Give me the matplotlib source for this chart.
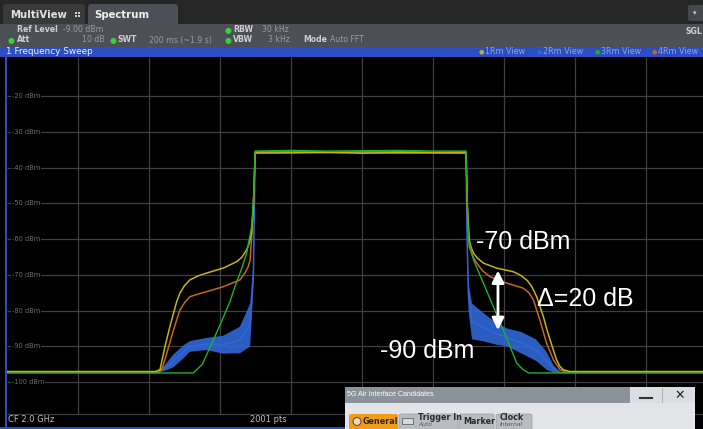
import matplotlib.pyplot as plt
from matplotlib.patches import Rectangle, FancyBboxPatch, Circle

W, H = 703, 429

# trace data: offset from CF 2.0 GHz (MHz, 20 MHz/div), level (dBm)
yellow_f = [-100, -58.3, -56.9, -55.5, -54.1, -53.1, -52.2, -51.3, -50.0, -48.5, -46.0, -43.8,
            -39.1, -35.3, -33.8, -32.5, -31.8, -31.1, -30.6, -30.1, -20, -10, 0, 10, 20, 29.3,
            29.7, 30.2, 30.8, 31.4, 32.5, 34.2, 37.9, 42.6, 44.5, 46.4, 47.8, 49.2, 51.1, 52.0,
            53.0, 54.8, 55.7, 56.7, 58.5, 100]
yellow_db = [-97.0, -97.0, -96.5, -90.0, -84.4, -80.7, -77.5, -75.1, -73.0, -71.4, -70.2, -69.5,
             -68.1, -66.3, -65.0, -63.0, -61.2, -58.4, -50.9, -35.9, -35.9, -35.7, -36.0, -35.8,
             -35.9, -35.9, -50.9, -60.2, -62.5, -63.9, -65.3, -66.7, -68.1, -69.1, -70.0, -71.4,
             -73.2, -76.1, -81.7, -85.0, -88.2, -93.7, -95.5, -96.5, -97.0, -97.0]

orange_f = [-100, -57.5, -56.4, -55.0, -53.1, -51.3, -49.8, -48.5, -46.0, -43.8, -39.1, -34.4,
            -33.0, -32.1, -31.5, -30.6, -30.1, -20, -10, 0, 10, 20, 29.3, 29.7, 30.2, 31.2,
            32.3, 34.0, 36.1, 40.8, 45.4, 47.0, 48.3, 50.1, 52.0, 53.9, 55.8, 57.5, 100]
orange_db = [-97.2, -97.2, -96.5, -91.9, -85.4, -79.8, -77.5, -76.1, -75.3, -74.7, -73.3, -71.4,
             -69.5, -67.8, -65.8, -50.9, -35.6, -35.5, -35.7, -35.6, -35.5, -35.7, -35.6, -52.8,
             -62.1, -64.8, -66.7, -68.9, -70.5, -72.3, -73.7, -75.0, -77.0, -82.6, -89.1, -93.7,
             -96.5, -97.2, -97.2]

blue_f = [-100, -57.5, -55.5, -53.1, -50.3, -48.5, -43.8, -39.1, -34.4, -31.5, -30.6, -30.1,
          -20, -10, 0, 10, 20, 29.3, 29.6, 30.0, 31.0, 34.0, 37.9, 41.0, 45.0, 49.0, 52.0,
          54.0, 56.0, 100]
blue_db = [-97.3, -97.3, -96.0, -94.0, -91.5, -90.0, -89.3, -89.5, -88.2, -84.0, -70.0, -36.0,
           -35.8, -35.9, -35.8, -36.0, -35.9, -36.0, -60.0, -76.0, -83.0, -84.5, -86.5, -87.5,
           -89.0, -91.0, -94.0, -96.3, -97.3, -97.3]
blue_ripple = [0, 0, 0.8, 1.8, 1.8, 1.5, 1.7, 2.5, 3.7, 6.0, 3.0, 0,
               0, 0, 0, 0, 0, 0, 2.0, 4.0, 5.0, 4.0, 3.0, 2.5,
               3.0, 3.0, 2.5, 1.0, 0, 0]

green_f = [-100, -47.5, -46.6, -45.0, -42.3, -40.0, -37.2, -35.8, -34.0, -32.5, -31.1, -30.4,
           -30.1, -20, -10, 0, 10, 20, 29.3, 29.7, 30.0, 31.4, 34.2, 37.0, 39.8, 41.7, 43.6,
           45.4, 47.0, 100]
green_db = [-97.4, -97.4, -96.5, -95.0, -89.1, -84.0, -77.5, -73.3, -68.5, -64.0, -56.5, -46.0,
            -35.4, -35.2, -35.4, -35.3, -35.2, -35.4, -35.4, -50.9, -60.2, -65.8, -72.3, -78.9,
            -85.4, -90.0, -94.7, -96.5, -97.4, -97.4]

level_ticks = [-20, -30, -40, -50, -60, -70, -80, -90, -100]
legend_names = ['1Rm View', '2Rm View', '3Rm View', '4Rm View']

c_yellow = '#c3b41c'
c_orange = '#c9661e'
c_blue = '#3068d6'
c_green = '#22b022'
c_bar = '#2b4fc2'

fig = plt.figure(figsize=(W / 100, H / 100), dpi=100, facecolor='black')

# spectrum display
ax = fig.add_axes([7 / W, 1 - 427 / H, 710 / W, (427 - 56.6) / H])
ax.set_facecolor('black')
ax.set_xlim(-100, 100)
ax.set_ylim(-112.5, -9)
ax.set_xticks([])
ax.set_yticks([])
for s in ax.spines.values():
    s.set_visible(False)

grid_c = '#3f3f3f'
ax.hlines(level_ticks + [-109], -100, 100, color=grid_c, lw=0.9, zorder=1)
ax.vlines([-80, -60, -40, -20, 0, 20, 40, 60, 80], -109, -9, color=grid_c, lw=0.9, zorder=1)
for lvl in level_ticks:
    ax.text(-98.6, lvl, f'{lvl} dBm', color='#6f6f6f', fontsize=4.8, va='center', ha='left',
            bbox=dict(fc='black', ec='none', pad=0.6), zorder=2)

lo = [d - r for d, r in zip(blue_db, blue_ripple)]
hi = [d + r for d, r in zip(blue_db, blue_ripple)]
ax.fill_between(blue_f, lo, hi, color=c_blue, alpha=0.9, lw=0, zorder=3)
ax.plot(blue_f, blue_db, color=c_blue, lw=1.1, zorder=3)
ax.plot(orange_f, orange_db, color=c_orange, lw=1.1, zorder=4)
ax.plot(yellow_f, yellow_db, color=c_yellow, lw=1.1, zorder=5)
ax.plot(green_f, green_db, color=c_green, lw=1.0, zorder=6)

ax.annotate('', xy=(38.3, -68.0), xytext=(38.3, -86.2),
            arrowprops=dict(arrowstyle='<|-|>', color='white', lw=2.0, mutation_scale=18),
            zorder=8)

# chrome in pixel coordinates
ui = fig.add_axes([0, 0, 1, 1], zorder=5)
ui.set_xlim(0, W)
ui.set_ylim(H, 0)
ui.axis('off')
ui.patch.set_visible(False)

ann = dict(color='white', fontsize=18, family='Liberation Sans', va='baseline', ha='left')
ui.text(476, 249, '-70 dBm', **ann)
ui.text(537, 306, 'Δ=20 dB', **ann)
ui.text(380, 358, '-90 dBm', **ann)

# tab bar
ui.add_patch(Rectangle((0, 0), W, 24, color='#262626', lw=0))
ui.add_patch(FancyBboxPatch((3, 4), 82, 22, boxstyle='round,pad=0,rounding_size=3',
                            fc='#3a3a3a', ec='none'))
ui.add_patch(FancyBboxPatch((88, 4), 90, 24, boxstyle='round,pad=0,rounding_size=3',
                            fc='#4c5056', ec='none'))
ui.text(10, 15, 'MultiView', color='#e2e2e2', fontsize=7.3, weight='bold', va='center')
for dx, dy in [(0, 0), (3, 0), (0, 3), (3, 3)]:
    ui.add_patch(Rectangle((75 + dx, 12 + dy), 2, 2, color='#d0d0d0', lw=0))
ui.text(94, 15, 'Spectrum', color='#f0f0f0', fontsize=7.3, weight='bold', va='center')
ui.add_patch(FancyBboxPatch((688, 5), 20, 16, boxstyle='round,pad=0,rounding_size=2',
                            fc='#45494e', ec='none'))
ui.text(695, 13, '▾', color='#cfcfcf', fontsize=5, va='center', ha='center')

# info row
ui.add_patch(Rectangle((0, 24), W, 23, color='#4c5056', lw=0))
inf = dict(fontsize=5.6, va='center')
dot = dict(fontsize=5.6, va='center', color='#3ccf3c')
ui.text(17, 30, 'Ref Level', color='#cfcfcf', weight='bold', **inf)
ui.text(63, 30, '-9.00 dBm', color='#9a9a9a', **inf)
ui.text(225, 30, '●', **dot)
ui.text(233, 30, 'RBW', color='#cfcfcf', weight='bold', **inf)
ui.text(262, 30, '30 kHz', color='#9a9a9a', **inf)
ui.text(685, 31, 'SGL', color='#cfcfcf', weight='bold', **inf)
ui.text(8, 40, '●', **dot)
ui.text(17, 40, 'Att', color='#cfcfcf', weight='bold', **inf)
ui.text(82, 40, '10 dB', color='#9a9a9a', **inf)
ui.text(110, 40, '●', **dot)
ui.text(118, 40, 'SWT', color='#cfcfcf', weight='bold', **inf)
ui.text(149, 40, '200 ms (~1.9 s)', color='#9a9a9a', **inf)
ui.text(225, 40, '●', **dot)
ui.text(233, 40, 'VBW', color='#cfcfcf', weight='bold', **inf)
ui.text(268, 40, '3 kHz', color='#9a9a9a', **inf)
ui.text(303, 40, 'Mode', color='#cfcfcf', weight='bold', **inf)
ui.text(330, 40, 'Auto FFT', color='#9a9a9a', **inf)

# window title bar
ui.add_patch(Rectangle((0, 46.5), W, 10.5, color=c_bar, lw=0))
ui.text(6, 51.8, '1 Frequency Sweep', color='#f2f2f2', fontsize=6.4, va='center')
for name, col, x in zip(legend_names, [c_yellow, c_blue, c_green, c_orange],
                        [479, 537, 595, 652]):
    ui.text(x, 51.8, '●', color=col, fontsize=4.5, va='center')
    ui.text(x + 6, 51.8, name, color='#8ea2de', fontsize=5.8, va='center')

# frame
ui.add_patch(Rectangle((5, 57), 2, 372, color=c_bar, lw=0))
ui.add_patch(Rectangle((0, 426.5), 345, 3, color=c_bar, lw=0))
ui.text(8, 420, 'CF 2.0 GHz', color='#bdbdbd', fontsize=6, va='center')
ui.text(250, 420, '2001 pts', color='#bdbdbd', fontsize=6, va='center')

# dialog
ui.add_patch(Rectangle((345, 387), 350, 42, color='#e2e4e7', lw=0))
ui.add_patch(Rectangle((345, 387), 285, 16, color='#8b929a', lw=0))
ui.add_patch(Rectangle((630, 387), 65, 16, color='#dadde1', lw=0))
ui.plot([662, 662], [388, 402], color='#b0b4b8', lw=0.8)
ui.text(347, 395, '5G Air Interface Candidates', color='white', fontsize=5.0,
        family='Liberation Sans', va='center')
ui.plot([640, 652], [398, 398], color='#333333', lw=1.5)
ui.text(680, 395, '✕', color='#222222', fontsize=9, va='center', ha='center')
ui.add_patch(FancyBboxPatch((349, 414), 49, 20, boxstyle='round,pad=0,rounding_size=2',
                            fc='#f39c1c', ec='none'))
ui.add_patch(Circle((357, 421.5), 4, fc='#f7d9a0', ec='#555555', lw=0.8))
ui.text(363, 421.5, 'General', color='#2a2a2a', fontsize=5.8, weight='bold', va='center')
for x0, x1 in [(399, 458), (459, 494), (496, 532)]:
    ui.add_patch(FancyBboxPatch((x0, 414), x1 - x0, 20, boxstyle='round,pad=0,rounding_size=2',
                                fc='#b9bdc2', ec='#9ca0a5', lw=0.5))
ui.add_patch(Rectangle((402, 418), 11, 6, fc='#d8d8d8', ec='#555555', lw=0.5))
ui.text(418, 418, 'Trigger In', color='#2a2a2a', fontsize=5.8, weight='bold', va='center')
ui.text(418, 425, 'Auto', color='#555555', fontsize=4.3, style='italic', va='center')
ui.text(463, 421.5, 'Marker', color='#2a2a2a', fontsize=5.8, weight='bold', va='center')
ui.text(500, 418, 'Clock', color='#2a2a2a', fontsize=5.8, weight='bold', va='center')
ui.text(500, 425, 'Internal', color='#555555', fontsize=4.3, style='italic', va='center')

fig.savefig('out.png', dpi=100, facecolor='black')
